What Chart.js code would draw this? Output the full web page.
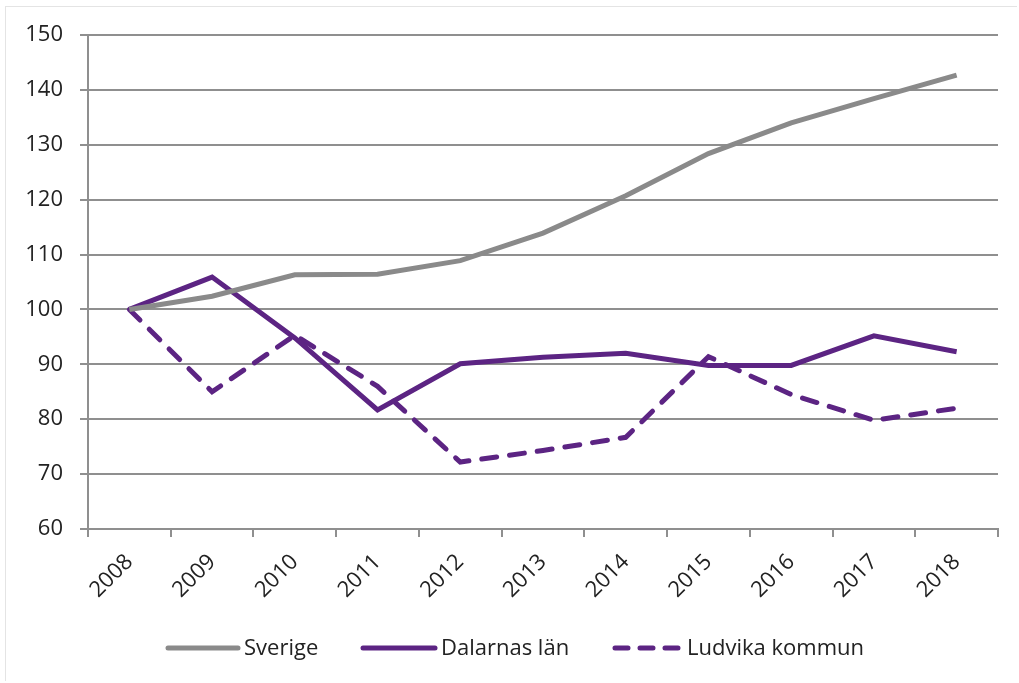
<!DOCTYPE html>
<html>
<head>
<meta charset="utf-8">
<script src="https://cdn.jsdelivr.net/npm/chart.js@4"></script>
<style>
  html, body { margin: 0; padding: 0; background: #fff; }
  #wrap { position: absolute; left: 5px; top: 6px; width: 1012px; height: 675px; border: 1px solid #e4e4e4; border-right: none; border-bottom: none; box-sizing: border-box; }
  #cv { position: absolute; left: 0; top: 0; }
</style>
</head>
<body>
<div id="wrap"></div>
<canvas id="cv" width="1019" height="683"></canvas>
<script>
// years on the x axis
var years = ['2008','2009','2010','2011','2012','2013','2014','2015','2016','2017','2018'];

// index values (2008 = 100)
var sverige  = [100, 102.4, 106.3, 106.4, 108.9, 113.9, 120.7, 128.4, 134.0, 138.4, 142.7];
var dalarnas = [100, 105.9, 94.8, 81.7, 90.1, 91.3, 92.0, 89.8, 89.8, 95.2, 92.3];
var ludvika  = [100, 85.0, 95.3, 86.0, 72.2, 74.3, 76.7, 91.4, 84.5, 79.8, 82.0];

var yMin = 60, yMax = 150, yStep = 10;

var gridGray = '#8f8f8f';
var lineGray = '#8a8a8a';
var purple = '#5c2483';
var fontFam = '"Open Sans", Lato, sans-serif';

// draws the legend below the axis, line samples like in the original
var legendPlugin = {
    id: 'lineLegend',
    afterDraw: function(chart) {
        var c = chart.ctx;
        var items = [
            { x: 168, len: 70, ds: 0 },
            { x: 363, len: 72, ds: 1 },
            { x: 615, len: 66, ds: 2 }
        ];
        var y = 648;
        c.save();
        c.font = '22px ' + fontFam;
        c.textBaseline = 'middle';
        items.forEach(function(it) {
            var ds = chart.data.datasets[it.ds];
            c.strokeStyle = ds.borderColor;
            c.lineWidth = ds.borderWidth;
            c.lineCap = 'round';
            c.setLineDash(ds.label === 'Ludvika kommun' ? [13, 12] : []);
            c.beginPath();
            c.moveTo(it.x, y);
            c.lineTo(it.x + it.len, y);
            c.stroke();
            c.setLineDash([]);
            c.fillStyle = '#222';
            c.fillText(ds.label, it.x + it.len + 6, y + 1);
        });
        c.restore();
    }
};

var ctx = document.getElementById('cv').getContext('2d');
var chart = new Chart(ctx, {
    type: 'line',
    data: {
        labels: years,
        datasets: [
            {
                label: 'Sverige',
                data: sverige,
                borderColor: lineGray,
                borderWidth: 5,
                pointRadius: 0,
                fill: false,
                tension: 0
            },
            {
                label: 'Dalarnas län',
                data: dalarnas,
                borderColor: purple,
                borderWidth: 5,
                pointRadius: 0,
                fill: false,
                tension: 0
            },
            {
                label: 'Ludvika kommun',
                data: ludvika,
                borderColor: purple,
                borderWidth: 5,
                borderDash: [15, 13],
                borderCapStyle: 'round',
                pointRadius: 0,
                fill: false,
                tension: 0
            }
        ]
    },
    options: {
        responsive: false,
        animation: false,
        layout: { padding: { top: 35, right: 21, left: 0, bottom: 0 } },
        plugins: {
            legend: { display: false },
            tooltip: { enabled: false }
        },
        scales: {
            x: {
                offset: true,
                grid: {
                    offset: true,
                    drawOnChartArea: false,
                    color: gridGray,
                    lineWidth: 2,
                    tickLength: 8
                },
                border: { color: gridGray, width: 2 },
                ticks: {
                    color: '#222',
                    font: { family: fontFam, size: 22 },
                    maxRotation: 45,
                    minRotation: 45,
                    padding: 12
                },
                afterFit: function(s) { s.height = 154; }
            },
            y: {
                min: yMin,
                max: yMax,
                grid: {
                    color: gridGray,
                    lineWidth: 2,
                    tickLength: 8
                },
                border: { color: gridGray, width: 2 },
                ticks: {
                    stepSize: yStep,
                    color: '#222',
                    font: { family: fontFam, size: 22 },
                    padding: 17
                },
                afterFit: function(s) { s.width = 88; }
            }
        }
    },
    plugins: [legendPlugin]
});
</script>
</body>
</html>
